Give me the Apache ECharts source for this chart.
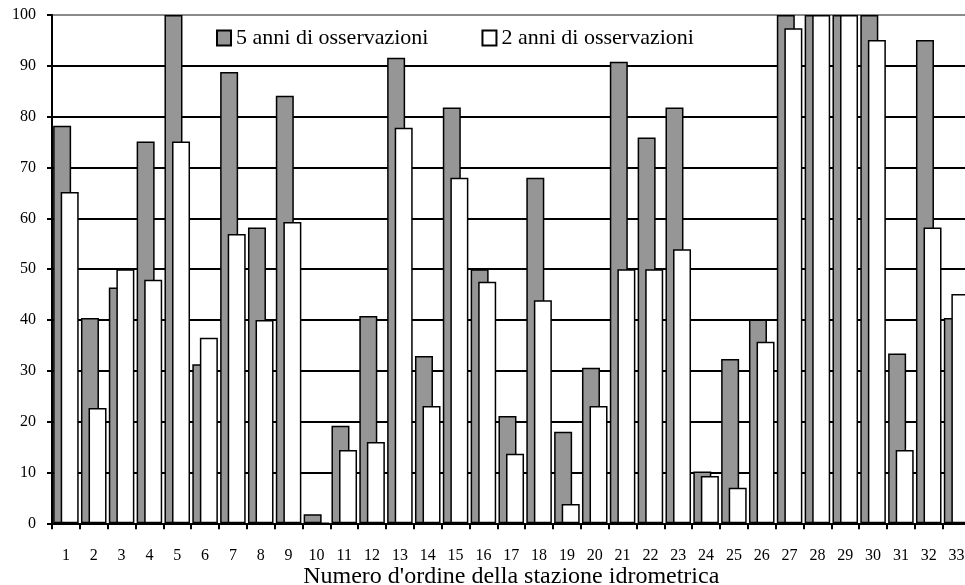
<!DOCTYPE html>
<html><head><meta charset="utf-8">
<script src="https://cdn.jsdelivr.net/npm/echarts@6/dist/echarts.min.js"></script>
<style>html,body{margin:0;padding:0;background:#fff;overflow:hidden}#c{width:965px;height:585px}</style>
</head><body><div id="c"></div>
<script>
var categories = ['1','2','3','4','5','6','7','8','9','10','11','12','13','14','15','16','17','18','19','20','21','22','23','24','25','26','27','28','29','30','31','32','33'];
var anni5 = [78.2,40.4,46.4,75.1,100,31.3,88.8,58.2,84.1,1.8,19.2,40.8,91.6,32.9,81.8,50,21.1,68.0,18.0,30.6,90.8,75.9,81.8,10.2,32.3,40.1,100,100,100,100,33.4,95.1,40.4];
var anni2 = [65.2,22.7,50,47.9,75.1,36.5,56.9,40.0,59.3,0,14.4,16.0,77.8,23.1,68.0,47.5,13.7,43.9,3.8,23.1,50,50,53.9,9.3,7.0,35.7,97.4,100,100,95.1,14.4,58.2,45.1];
var yTicks = [0,10,20,30,40,50,60,70,80,90,100];
var seriesNames = ['5 anni di osservazioni','2 anni di osservazioni'];

var chart = echarts.init(document.getElementById('c'), null, {renderer:'canvas', width:965, height:585});
var font = 'Liberation Serif';
var gridColors = yTicks.map(function(v,i){return i===yTicks.length-1?'#8a8a8a':'#000';});
chart.setOption({
  animation:false,
  backgroundColor:'#fff',
  textStyle:{fontFamily:font},
  legend:{
    left:216, top:27, itemWidth:14, itemHeight:15, itemGap:53, padding:0,
    icon:'rect',
    textStyle:{fontFamily:font,fontSize:22,color:'#000'},
    data:seriesNames
  },
  grid:{left:52, top:15, width:918.5, height:508.3, containLabel:false, outerBoundsMode:'none'},
  xAxis:{
    type:'category', data:categories,
    axisLine:{lineStyle:{color:'#000',width:2}},
    axisTick:{show:true,length:6,lineStyle:{color:'#000',width:2}},
    axisLabel:{color:'#000',fontFamily:font,fontSize:16,margin:24,interval:0},
    name:"Numero d'ordine della stazione idrometrica",
    nameLocation:'middle', nameGap:41, nameMoveOverlap:false,
    nameTextStyle:{color:'#000',fontFamily:font,fontSize:24,verticalAlign:'top',lineHeight:24}
  },
  yAxis:{
    type:'value', min:0, max:100, interval:10,
    axisLine:{show:true,lineStyle:{color:'#000',width:2}},
    axisTick:{show:true,length:5,lineStyle:{color:'#000',width:2}},
    axisLabel:{color:'#000',fontFamily:font,fontSize:16,margin:16},
    splitLine:{show:true,lineStyle:{color:gridColors,width:2}}
  },
  series:[
    {name:seriesNames[0], type:'bar', data:anni5, barWidth:18, barGap:'-58%',
     itemStyle:{color:'#969696',borderColor:'#000',borderWidth:1.5}},
    {name:seriesNames[1], type:'bar', data:anni2, barWidth:18, barGap:'-58%',
     itemStyle:{color:'#fff',borderColor:'#000',borderWidth:1.5}}
  ]
});
</script></body></html>
